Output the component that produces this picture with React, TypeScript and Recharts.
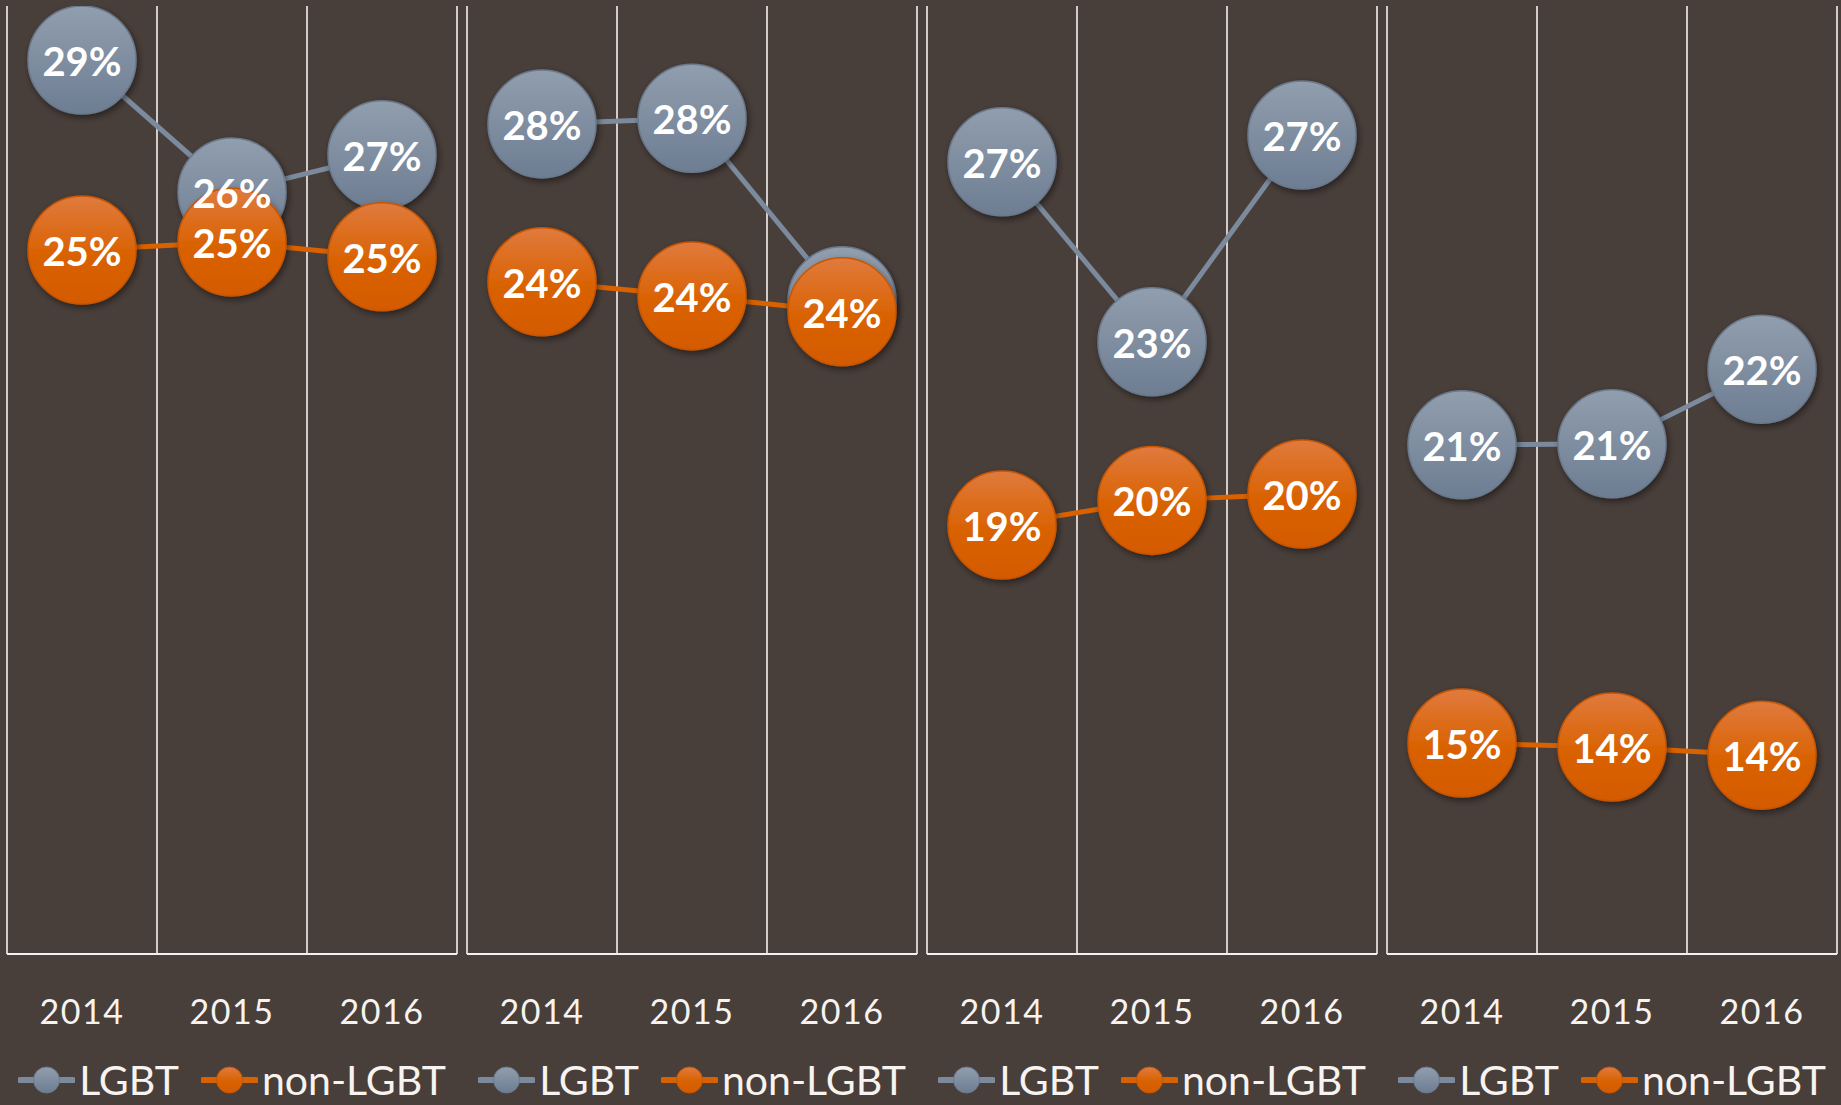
import { LineChart, Line, XAxis, YAxis, ReferenceLine, LabelList, Legend } from 'recharts';

const years = ['2014', '2015', '2016'];
const seriesNames = ['LGBT', 'non-LGBT'];

// each small chart has its own y axis range, like the original
const domains: [number, number][] = [[7.1, 30.8], [9.2, 30.75], [10.39, 29.93], [10.2, 29.75]];

const lgbt1 = [29.45, 26.15, 27.08];
const non1 = [24.7, 24.9, 24.53];
const lgbt2 = [28.07, 28.2, 24.05];
const non2 = [24.48, 24.16, 23.8];
const lgbt3 = [26.72, 23.01, 27.27];
const non3 = [19.23, 19.74, 19.87];
const lgbt4 = [20.7, 20.72, 22.26];
const non4 = [14.55, 14.47, 14.3];

const lgbtSets = [lgbt1, lgbt2, lgbt3, lgbt4];
const nonSets = [non1, non2, non3, non4];
const boundaries = [-0.5, 0.5, 1.5, 2.5];

const BG = '#483e3a';
const GRAY_LINE = '#7b8a9d';
const ORANGE_LINE = '#d86100';
const FONT = 'Lato, "Open Sans", sans-serif';

const Bubble = (props: any) => {
  const { cx, cy, index, kind } = props;
  if (cx == null || cy == null) return null;
  const gray = kind === 'gray';
  return (
    <circle
      key={`b-${kind}-${index}`}
      cx={cx}
      cy={cy}
      r={54}
      fill={gray ? 'url(#gGray)' : 'url(#gOrange)'}
      stroke={gray ? '#6a798c' : '#c85600'}
      strokeWidth={1.5}
      filter="url(#bubbleShadow)"
    />
  );
};

const PctLabel = (props: any) => {
  const { x, y, value } = props;
  if (x == null || y == null || value == null) return null;
  return (
    <text x={x} y={y + 16} textAnchor="middle" fill="#ffffff" fontSize={40} fontWeight={700} fontFamily={FONT}>
      {Math.round(value)}%
    </text>
  );
};

const YearTick = (props: any) => {
  const { x, y, payload } = props;
  return (
    <text x={x} y={y + 70} textAnchor="middle" fill="#f6f3f0" fontSize={34} fontFamily={FONT} letterSpacing={1.5}>
      {years[payload.value]}
    </text>
  );
};

const LegendIcon = ({ line, fill, stroke }: { line: string; fill: string; stroke: string }) => (
  <svg width={57} height={30} style={{ display: 'block' }}>
    <line x1={2} y1={15} x2={55} y2={15} stroke={line} strokeWidth={6} strokeLinecap="round" />
    <circle cx={28.5} cy={15} r={13} fill={fill} stroke={stroke} strokeWidth={1} />
  </svg>
);

const SmallLegend = () => (
  <div style={{ display: 'flex', justifyContent: 'center', alignItems: 'center', height: 44, gap: 22, fontFamily: FONT, fontSize: 41, lineHeight: '40px', color: '#f6f3f0' }}>
    <span style={{ display: 'flex', alignItems: 'center', gap: 4 }}>
      <LegendIcon line={GRAY_LINE} fill="url(#gGray)" stroke="#6a798c" />
      <span>{seriesNames[0]}</span>
    </span>
    <span style={{ display: 'flex', alignItems: 'center', gap: 4 }}>
      <LegendIcon line={ORANGE_LINE} fill="url(#gOrange)" stroke="#c85600" />
      <span>{seriesNames[1]}</span>
    </span>
  </div>
);

function Panel({ idx }: { idx: number }) {
  const data = years.map((_, i) => {
    const l = lgbtSets[idx][i];
    const n = nonSets[idx][i];
    // the LGBT label is hidden when its bubble sits under the orange one
    return { i, lgbt: l, non: n, lgbtLabel: Math.abs(l - n) < 0.5 ? null : l };
  });
  return (
    <LineChart width={460} height={1105} data={data} margin={{ top: 6, right: 3, bottom: 0, left: 7 }}>
      <XAxis
        type="number"
        dataKey="i"
        domain={[-0.5, 2.5]}
        ticks={[0, 1, 2]}
        tickLine={false}
        tickSize={0}
        tickMargin={0}
        axisLine={{ stroke: '#f4f1ee', strokeWidth: 2 }}
        tick={<YearTick />}
        height={107}
      />
      <YAxis hide domain={domains[idx]} allowDataOverflow />
      {boundaries.map((b) => (
        <ReferenceLine key={b} x={b} stroke="#f4f1ee" strokeWidth={1.6} />
      ))}
      <Legend verticalAlign="bottom" height={44} content={<SmallLegend />} wrapperStyle={{ bottom: 3 }} />
      <Line
        dataKey="lgbt"
        stroke={GRAY_LINE}
        strokeWidth={5}
        isAnimationActive={false}
        dot={(p: any) => <Bubble {...p} kind="gray" />}
        activeDot={false}
      />
      <Line
        dataKey="non"
        stroke={ORANGE_LINE}
        strokeWidth={5}
        isAnimationActive={false}
        dot={(p: any) => <Bubble {...p} kind="orange" />}
        activeDot={false}
      />
      {/* labels drawn last so they sit above every bubble */}
      <Line dataKey="lgbt" stroke="none" dot={false} activeDot={false} isAnimationActive={false} legendType="none">
        <LabelList dataKey="lgbtLabel" content={<PctLabel />} />
      </Line>
      <Line dataKey="non" stroke="none" dot={false} activeDot={false} isAnimationActive={false} legendType="none">
        <LabelList dataKey="non" content={<PctLabel />} />
      </Line>
    </LineChart>
  );
}

export default function App() {
  return (
    <div style={{ position: 'fixed', left: 0, top: 0, width: 1841, height: 1105, background: BG, overflow: 'hidden' }}>
      <svg width={0} height={0} style={{ position: 'absolute' }}>
        <defs>
          <linearGradient id="gGray" x1="0" y1="0" x2="0" y2="1">
            <stop offset="0%" stopColor="#919eae" />
            <stop offset="100%" stopColor="#6d7d92" />
          </linearGradient>
          <linearGradient id="gOrange" x1="0" y1="0" x2="0" y2="1">
            <stop offset="0%" stopColor="#e07a3e" />
            <stop offset="55%" stopColor="#d96200" />
            <stop offset="100%" stopColor="#d45a00" />
          </linearGradient>
          <filter id="bubbleShadow" x="-30%" y="-30%" width="160%" height="160%">
            <feDropShadow dx={2} dy={3} stdDeviation={3} floodColor="#000000" floodOpacity={0.45} />
          </filter>
        </defs>
      </svg>
      <div style={{ display: 'flex' }}>
        {[0, 1, 2, 3].map((k) => (
          <Panel key={k} idx={k} />
        ))}
      </div>
    </div>
  );
}
